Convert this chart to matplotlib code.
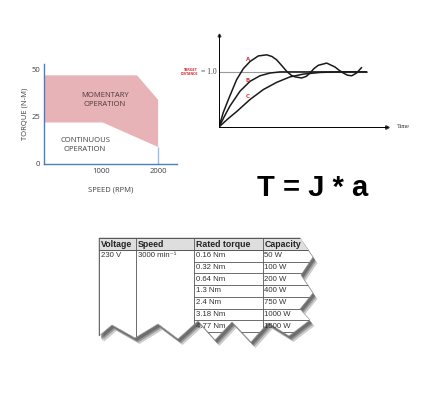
import matplotlib
matplotlib.use("Agg")
import matplotlib.pyplot as plt
from matplotlib.patches import Polygon, Rectangle

# torque-speed curve (speed in RPM, torque in N-M)
mom_speed = [0, 1630, 2000]
mom_torque = [47, 47, 34]
cont_speed = [0, 1030, 2000]
cont_torque = [22, 22, 9]
speed_ticks = [1000, 2000]
torque_ticks = [0, 25, 50]

# step response curves (time, distance)
a_t = [0, 0.25, 0.56, 1.05, 1.45, 1.85, 2.34, 2.84, 3.15, 3.43, 3.75, 4.03, 4.3, 4.52,
       4.92, 5.2, 5.42, 5.65, 5.91, 6.41, 6.90, 7.15, 7.40, 7.65, 7.90, 8.19, 8.49]
a_y = [0, 0.26, 0.50, 0.86, 1.06, 1.19, 1.29, 1.31, 1.28, 1.22, 1.11, 1.01, 0.94, 0.91,
       0.89, 0.92, 0.98, 1.06, 1.12, 1.16, 1.09, 1.03, 0.98, 0.94, 0.93, 0.98, 1.08]
b_t = [0, 0.35, 0.65, 1.25, 1.85, 2.44, 3.04, 3.63, 4.23, 6.0, 8.79]
b_y = [0, 0.21, 0.38, 0.65, 0.83, 0.93, 0.98, 1.0, 1.0, 1.0, 1.0]
c_t = [0, 0.5, 1.05, 1.85, 2.64, 3.43, 4.23, 5.02, 6.01, 7.0, 8.79]
c_y = [0, 0.14, 0.28, 0.50, 0.68, 0.81, 0.91, 0.96, 0.99, 1.0, 1.0]
target_value = 1.0
target_end = 8.79
curve_labels = ["A", "B", "C"]
label_pos = [(1.73, 1.22), (1.73, 0.84), (1.73, 0.55)]

# motor table
table_cols = ["Voltage", "Speed", "Rated torque", "Capacity"]
voltage = "230 V"
speed = "3000 min\u207b\u00b9"
rated_torque = ["0.16 Nm", "0.32 Nm", "0.64 Nm", "1.3 Nm", "2.4 Nm", "3.18 Nm", "4.77 Nm"]
capacity = ["50 W", "100 W", "200 W", "400 W", "750 W", "1000 W", "1500 W"]

W, H = 421, 396
fig = plt.figure(figsize=(W / 100, H / 100), dpi=100)
fig.patch.set_facecolor("white")

# overlay in pixel coordinates for the table and formula
ov = fig.add_axes([0, 0, 1, 1])
ov.set_xlim(0, W)
ov.set_ylim(H, 0)
ov.axis("off")
ov.patch.set_alpha(0)

red = "#d0393f"
blue = "#4a7fc1"
grey_txt = "#404040"

# ---- torque chart
ax = fig.add_axes([44 / W, 1 - 164 / H, 133 / W, 100 / H])
ax.fill(mom_speed + cont_speed[::-1], mom_torque + cont_torque[::-1],
        color="#e8b3b7", lw=0)
ax.vlines(cont_speed[-1], 0, cont_torque[-1], color="#9dbde3", lw=1.0)
ax.set_xlim(0, 2330)
ax.set_ylim(0, 53)
for s in ["top", "right"]:
    ax.spines[s].set_visible(False)
for s in ["left", "bottom"]:
    ax.spines[s].set_color(blue)
    ax.spines[s].set_linewidth(1.0)
ax.set_xticks(speed_ticks)
ax.set_yticks(torque_ticks)
ax.tick_params(length=0, pad=3, labelsize=5.5, labelcolor=grey_txt)
for lab in ax.get_xticklabels() + ax.get_yticklabels():
    lab.set_family("Open Sans")
ax.set_xlabel("SPEED (RPM)", fontsize=5.5, color=grey_txt, family="Open Sans", labelpad=8)
ax.set_ylabel("TORQUE (N-M)", fontsize=5.5, color=grey_txt, family="Open Sans", labelpad=2)
ax.text(1070, 34, "MOMENTARY\nOPERATION", ha="center", va="center", fontsize=5.5,
        color="#4a3a3a", family="Open Sans", linespacing=1.3)
ax.text(720, 10, "CONTINUOUS\nOPERATION", ha="center", va="center", fontsize=5.5,
        color=grey_txt, family="Open Sans", linespacing=1.3)
ax.patch.set_alpha(0)

# ---- step response chart
ax2 = fig.add_axes([219 / W, 1 - 127 / H, 168 / W, 92 / H])
ax2.set_xlim(0, 10)
ax2.set_ylim(0, 1.67)
ax2.plot([0, target_end], [target_value, target_value], color="#9a9a9a", lw=0.8)
for t, y in [(a_t, a_y), (b_t, b_y), (c_t, c_y)]:
    ax2.plot(t, y, color="#1a1a1a", lw=1.1, solid_capstyle="round")
for lab, (x, y) in zip(curve_labels, label_pos):
    ax2.text(x, y, lab, color=red, fontsize=4, fontweight="bold", ha="center", va="center")
for s in ["top", "right"]:
    ax2.spines[s].set_visible(False)
for s in ["left", "bottom"]:
    ax2.spines[s].set_linewidth(0.7)
ax2.plot(1, 0, ">", color="#333", ms=2.5, transform=ax2.transAxes, clip_on=False)
ax2.plot(0, 1, "^", color="#333", ms=2, transform=ax2.transAxes, clip_on=False)
ax2.set_xticks([])
ax2.set_yticks([])
ax2.text(10.6, 0, "Time", fontsize=4.5, family="Liberation Serif", color="#333",
         va="center", ha="left", clip_on=False)
ax2.text(-1.75, target_value, "TARGET\nDISTANCE", fontsize=2.3, color=red, fontweight="bold",
         ha="center", va="center", linespacing=1.1, clip_on=False)
ax2.text(-0.15, target_value, "= 1.0", fontsize=5.5, family="Liberation Serif", color="#444",
         ha="right", va="center", clip_on=False)
ax2.patch.set_alpha(0)

# ---- formula
ov.text(313, 188, "T = J * a", fontsize=21, fontweight="bold", family="Liberation Sans",
        ha="center", va="center", color="black")

# ---- torn table
paper_pts = [(99, 238), (300, 238), (313, 257), (301, 275), (313, 293), (300, 309),
             (310, 320), (289, 336), (268, 323), (251, 342), (232, 322), (215, 340),
             (198, 321), (178, 339), (158, 324), (135, 338), (112, 325), (99, 336)]
for dx, dy, al in [(4.5, 6, 0.25), (3, 4.5, 0.35), (2, 3, 0.45)]:
    ov.add_patch(Polygon([(x + dx, y + dy) for x, y in paper_pts], closed=True,
                         fc="#3a3a3a", ec="none", alpha=al))
paper = Polygon(paper_pts, closed=True, fc="white", ec="#9a9a9a", lw=0.5)
ov.add_patch(paper)

col_x = [99, 136, 194, 262.5]
head_top, head_bot = 238, 250
row_h = 11.7
line_c = "#555555"
items = []
items.append(ov.add_patch(Rectangle((99, head_top), 230, head_bot - head_top,
                                    fc="#dedede", ec="none")))
items += ov.plot([99, 330], [head_top, head_top], color=line_c, lw=0.7)
items += ov.plot([99, 330], [head_bot, head_bot], color=line_c, lw=0.7)
for x in col_x:
    items += ov.plot([x, x], [head_top, 350], color=line_c, lw=0.6)
for i in range(1, len(rated_torque) + 1):
    y = head_bot + i * row_h
    items += ov.plot([col_x[2], 330], [y, y], color=line_c, lw=0.6)
for x, name in zip(col_x, table_cols):
    items.append(ov.text(x + 2, (head_top + head_bot) / 2 + 0.5, name, fontsize=6.3,
                         fontweight="bold", family="Liberation Sans", color="#222",
                         ha="left", va="center"))
items.append(ov.text(col_x[0] + 2, head_bot + row_h / 2, voltage, fontsize=5.6,
                     family="Liberation Sans", color="#333", ha="left", va="center"))
items.append(ov.text(col_x[1] + 2, head_bot + row_h / 2, speed, fontsize=5.6,
                     family=["Liberation Sans", "DejaVu Sans"], color="#333",
                     ha="left", va="center"))
for i, (tq, cap) in enumerate(zip(rated_torque, capacity)):
    y = head_bot + (i + 0.5) * row_h
    items.append(ov.text(col_x[2] + 2, y, tq, fontsize=5.6, family="Liberation Sans",
                         color="#333", ha="left", va="center"))
    items.append(ov.text(col_x[3] + 2, y, cap, fontsize=5.6, family="Liberation Sans",
                         color="#333", ha="left", va="center"))
for it in items:
    it.set_clip_path(paper)

fig.savefig("out.png", dpi=100, facecolor="white")
